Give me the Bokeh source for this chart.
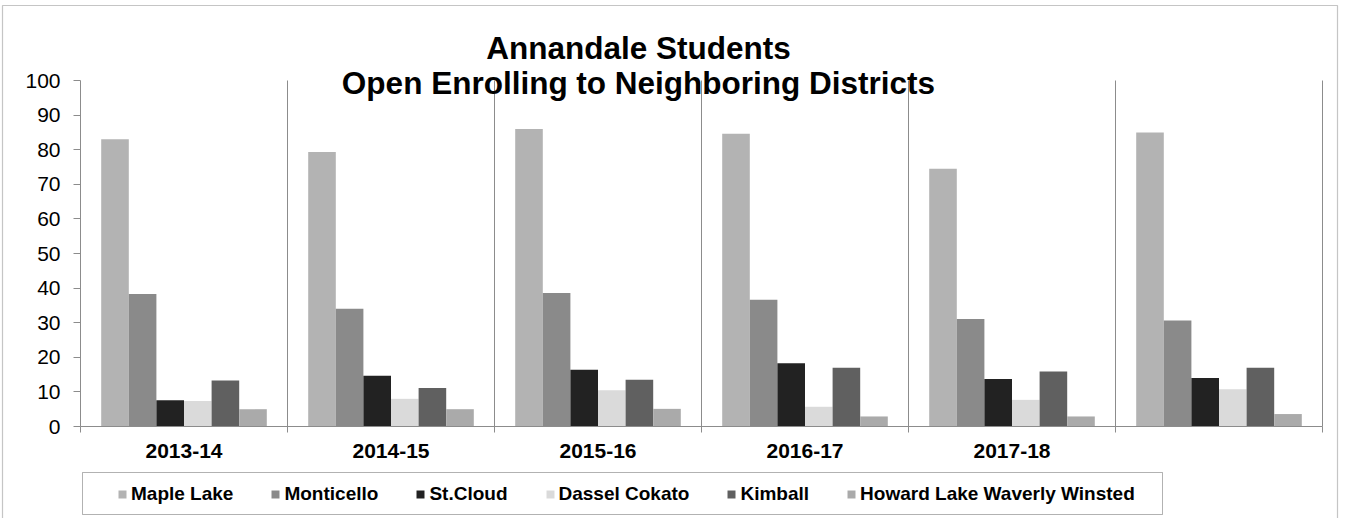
from bokeh.plotting import figure
from bokeh.models import (Range1d, FixedTicker, Legend, LegendItem, Label,
                          BoxAnnotation, ColumnDataSource)
from bokeh.transform import dodge
from bokeh.embed import file_html
from bokeh.resources import INLINE

# ---- data ----
title_lines = ["Annandale Students", "Open Enrolling to Neighboring Districts"]
years = ["2013-14", "2014-15", "2015-16", "2016-17", "2017-18", ""]
series_names = ["Maple Lake", "Monticello", "St.Cloud", "Dassel Cokato",
                "Kimball", "Howard Lake Waverly Winsted"]
maple_lake = [83.0, 79.3, 86.0, 84.6, 74.5, 85.0]
monticello = [38.3, 34.0, 38.6, 36.6, 31.1, 30.6]
st_cloud = [7.6, 14.7, 16.4, 18.3, 13.7, 14.0]
dassel_cokato = [7.4, 8.0, 10.5, 5.7, 7.7, 10.8]
kimball = [13.3, 11.1, 13.5, 17.0, 15.9, 17.0]
howard_lake = [5.0, 5.0, 5.1, 2.9, 2.9, 3.6]
y_ticks = [0, 10, 20, 30, 40, 50, 60, 70, 80, 90, 100]

series_values = [maple_lake, monticello, st_cloud, dassel_cokato, kimball, howard_lake]
colors = ["#b3b3b3", "#8a8a8a", "#222222", "#dadada", "#606060", "#aaaaaa"]

n_cat = len(years)
n_ser = len(series_names)
centers = [i + 0.5 for i in range(n_cat)]
boundaries = list(range(0, n_cat + 1))
data = {"xc": centers}
keys = []
for j, vals in enumerate(series_values):
    k = "s%d" % j
    data[k] = vals
    keys.append(k)
source = ColumnDataSource(data)

# ---- layout (canvas pixels) ----
W, H = 1340, 518
PX_LEFT, PX_RIGHT = 80, 1322     # x = 0 and x = n_cat
PX_TOP, PX_ZERO = 80, 426        # y = 100 and y = 0
Y_MAX = 100.0
sx = (PX_RIGHT - PX_LEFT) / n_cat
sy = (PX_ZERO - PX_TOP) / Y_MAX
x_range = Range1d(-PX_LEFT / sx, n_cat + (W - PX_RIGHT) / sx)
y_range = Range1d(-(H - PX_ZERO) / sy, Y_MAX + PX_TOP / sy)

FONT = "Liberation Sans"
GRID = "#8c8c8c"

p = figure(width=W, height=H, x_range=x_range, y_range=y_range, title=None,
           output_backend="svg", toolbar_location=None,
           min_border=0, min_border_left=0, min_border_right=0,
           min_border_top=0, min_border_bottom=0)
p.outline_line_color = None
p.background_fill_color = "white"
p.border_fill_color = "white"
p.xgrid.visible = False
p.ygrid.visible = False

# vertical separators between categories
p.segment(x0=boundaries[1:], y0=[0] * n_cat, x1=boundaries[1:], y1=[Y_MAX] * n_cat,
          line_color=GRID, line_width=1)

group = 0.8
bw = group / n_ser
renderers = []
for j, k in enumerate(keys):
    off = -group / 2 + (j + 0.5) * bw
    r = p.vbar(x=dodge("xc", off, range=p.x_range), top=k, width=bw, bottom=0,
               source=source, fill_color=colors[j], line_color=None)
    renderers.append(r)

# x axis
xa = p.xaxis[0]
xa.fixed_location = 0
xa.bounds = (0, n_cat)
xa.ticker = FixedTicker(ticks=[c for c, y in zip(centers, years) if y],
                        minor_ticks=boundaries)
xa.major_label_overrides = {c: y for c, y in zip(centers, years)}
xa.major_tick_out = 0
xa.major_tick_in = 0
xa.minor_tick_out = 6
xa.minor_tick_in = 0
xa.minor_tick_line_color = GRID
xa.axis_line_color = GRID
xa.major_label_text_font = FONT
xa.major_label_text_font_style = "bold"
xa.major_label_text_font_size = "21px"
xa.major_label_text_color = "black"
xa.major_label_standoff = 11

# y axis
ya = p.yaxis[0]
ya.fixed_location = 0
ya.bounds = (0, Y_MAX)
ya.ticker = FixedTicker(ticks=y_ticks)
ya.major_tick_out = 7
ya.major_tick_in = 0
ya.minor_tick_line_color = None
ya.axis_line_color = GRID
ya.major_tick_line_color = GRID
ya.major_label_text_font = FONT
ya.major_label_text_font_size = "21px"
ya.major_label_text_color = "black"
ya.major_label_standoff = 13

# title (two lines)
for txt, cy in zip(title_lines, [47, 82]):
    p.add_layout(Label(x=638, y=H - cy, x_units="screen", y_units="screen", text=txt,
                       text_align="center", text_baseline="middle", text_font=FONT,
                       text_font_style="bold", text_font_size="31.5px", text_color="black"))

# legend
items = [LegendItem(label=nm, renderers=[r]) for nm, r in zip(series_names, renderers)]
legend = Legend(items=items, orientation="horizontal", location=(117, H - 505),
                glyph_width=10, glyph_height=10, label_standoff=4, spacing=37,
                padding=8, margin=0, border_line_color=None, background_fill_alpha=0,
                label_text_font=FONT, label_text_font_style="bold",
                label_text_font_size="19px", label_text_color="black")
p.add_layout(legend, "center")

# legend box
p.add_layout(BoxAnnotation(left=82, right=1162, top=H - 472, bottom=H - 514,
                           left_units="screen", right_units="screen",
                           top_units="screen", bottom_units="screen",
                           fill_color=None, line_color="#000000", line_width=1))
# outer chart border
p.add_layout(BoxAnnotation(left=2, right=1337, top=H - 5, bottom=-20,
                           left_units="screen", right_units="screen",
                           top_units="screen", bottom_units="screen",
                           fill_color=None, line_color="#404040", line_width=1.2))

open("out.html", "w").write(file_html(p, INLINE))
